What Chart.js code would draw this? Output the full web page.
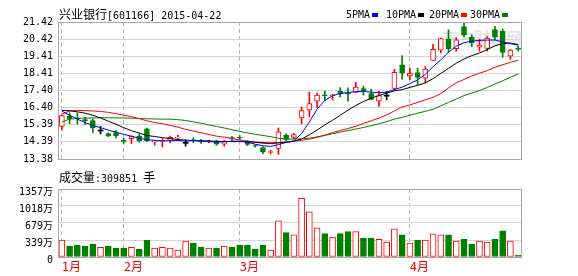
<!DOCTYPE html>
<html>
<head>
<meta charset="utf-8">
<script src="https://cdn.jsdelivr.net/npm/chart.js@4.4.0/dist/chart.umd.min.js"></script>
<style>
  body { margin: 0; background: #fff; width: 578px; height: 276px; overflow: hidden; position: relative; }
  .box { position: absolute; left: 0; width: 578px; z-index: 1; }
  #mainBox { top: 0; height: 170px; }
  #volBox { top: 170px; height: 106px; }
  .t { position: absolute; white-space: nowrap; font-family: "DejaVu Sans Mono", monospace; font-size: 10px; line-height: 14px; color: #000; z-index: 2; }
  .cjk { font-family: "Noto Sans CJK SC"; font-size: 12px; }
  .sq { display: inline-block; width: 6px; height: 4px; margin-left: 2px; vertical-align: 1px; }
  .wm { position: absolute; left: 442px; top: 25px; font-family: "Noto Sans CJK SC"; font-weight: bold; font-size: 16px; color: #e4e4e4; z-index: 0; }
</style>
</head>
<body>
<div class="t" style="left:59px;top:7px"><span class="cjk">兴业银行</span>[601166] 2015-04-22</div>
<div class="t" style="left:346px;top:8px">5PMA<span class="sq" style="background:#0000ff"></span></div>
<div class="t" style="left:386px;top:8px">10PMA<span class="sq" style="background:#000"></span></div>
<div class="t" style="left:429px;top:8px">20PMA<span class="sq" style="background:#ff0000"></span></div>
<div class="t" style="left:470px;top:8px">30PMA<span class="sq" style="background:#008000"></span></div>
<div class="t" style="left:59px;top:170px"><span class="cjk">成交量</span>:309851 <span class="cjk">手</span></div>
<div class="wm">东方财富网</div>
<div class="box" id="mainBox"><canvas id="mainChart" width="578" height="170"></canvas></div>
<div class="box" id="volBox"><canvas id="volChart" width="578" height="106"></canvas></div>

<script>
// 月份标记（第一个交易日的位置）
const monthLabels = ['1月', '2月', '3月', '4月'];
const monthStart = [0, 8, 23, 45];

// 价格坐标刻度
const priceTicks = [13.38, 14.39, 15.39, 16.40, 17.40, 18.41, 19.41, 20.42, 21.42];
// 成交量坐标刻度（万）
const volTicks = [0, 339, 679, 1018, 1357];

// K线数据
const opens = [15.29,15.89,15.80,15.69,15.63,15.05,14.87,14.93,14.47,14.57,
  14.73,15.15,14.37,14.41,14.47,14.61,14.33,14.51,14.45,14.39,
  14.43,14.25,14.63,14.65,14.43,14.17,14.05,13.77,14.00,14.78,
  14.65,15.79,16.24,16.77,17.15,17.10,17.37,17.27,17.28,17.51,
  17.22,16.77,17.10,17.52,18.91,18.26,18.45,18.12,19.17,19.77,
  20.41,19.85,21.15,20.53,19.95,19.87,20.97,20.87,19.41,19.91];
const highs = [15.95,16.09,16.09,15.83,15.73,15.29,14.93,15.05,14.59,14.75,
  14.85,15.19,14.49,14.57,14.73,14.79,14.49,14.63,14.53,14.49,
  14.49,14.49,14.71,14.75,14.47,14.23,14.09,13.89,15.20,14.85,
  14.88,16.43,17.30,17.23,17.37,17.18,17.57,17.55,17.88,17.66,
  17.47,17.38,17.35,18.65,19.45,18.71,18.71,18.81,20.11,20.48,
  20.96,20.50,21.42,20.67,20.41,20.57,21.17,21.01,19.81,20.00];
const lows = [15.09,15.45,15.43,15.39,14.93,14.85,14.69,14.61,14.29,14.29,
  14.37,14.39,14.19,14.09,14.33,14.49,14.13,14.33,14.29,14.33,
  14.19,14.13,14.47,14.51,14.17,14.07,13.69,13.69,13.65,14.45,
  14.58,15.45,15.85,16.40,16.80,16.85,17.02,16.77,17.26,17.13,
  16.85,16.47,16.85,17.40,18.06,18.03,17.74,17.83,19.17,19.61,
  19.65,19.70,20.55,19.97,19.71,19.71,20.37,19.35,19.23,19.71];
const closes = [15.93,15.75,15.75,15.63,15.21,15.05,14.73,14.75,14.41,14.73,
  14.45,14.45,14.45,14.47,14.65,14.65,14.33,14.45,14.39,14.45,
  14.25,14.43,14.59,14.61,14.23,14.13,13.79,13.81,14.97,14.53,
  14.82,16.22,16.63,17.13,17.10,17.15,17.22,17.18,17.60,17.38,
  16.88,17.10,17.10,18.47,18.41,18.41,18.17,18.65,19.81,20.44,
  19.85,20.37,20.65,20.21,20.05,20.47,20.53,19.63,19.77,19.81];

// 均线
const ma5 = [16.19,15.95,15.72,15.52,15.35,15.22,15.08,14.95,14.83,14.71,
  14.60,14.52,14.47,14.45,14.45,14.47,14.43,14.47,14.43,14.40,
  14.37,14.39,14.43,14.43,14.37,14.25,14.16,14.12,14.22,14.35,
  14.45,14.87,15.55,16.30,16.82,17.10,17.22,17.28,17.33,17.35,
  17.30,17.27,17.30,17.45,17.60,17.80,18.02,18.35,18.80,19.20,
  19.65,20.00,20.20,20.30,20.34,20.36,20.36,20.25,20.15,20.06];
const ma10 = [16.23,16.21,16.15,16.07,15.95,15.79,15.60,15.42,15.22,15.04,
  14.90,14.76,14.70,14.63,14.58,14.52,14.49,14.46,14.45,14.44,
  14.42,14.40,14.40,14.40,14.39,14.36,14.31,14.29,14.32,14.36,
  14.42,14.55,14.80,15.08,15.38,15.65,15.95,16.25,16.52,16.75,
  16.95,17.10,17.25,17.38,17.45,17.58,17.70,17.85,18.10,18.40,
  18.70,19.00,19.25,19.45,19.60,19.80,20.02,20.15,20.18,20.10];
const ma20 = [16.00,16.20,16.23,16.22,16.20,16.17,16.12,16.04,15.95,15.86,
  15.75,15.62,15.52,15.45,15.35,15.25,15.12,15.02,14.92,14.82,
  14.72,14.66,14.58,14.50,14.42,14.38,14.35,14.33,14.35,14.38,
  14.42,14.47,14.55,14.65,14.78,14.93,15.05,15.17,15.30,15.47,
  15.62,15.78,15.97,16.20,16.44,16.55,16.70,16.85,17.00,17.22,
  17.55,17.85,18.05,18.25,18.41,18.57,18.76,18.91,19.05,19.18];
const ma30 = [15.55,15.72,15.76,15.78,15.79,15.80,15.80,15.79,15.79,15.77,
  15.76,15.74,15.73,15.72,15.72,15.69,15.64,15.56,15.48,15.38,
  15.29,15.20,15.10,15.00,14.91,14.83,14.76,14.69,14.60,14.55,
  14.55,14.57,14.60,14.68,14.76,14.86,14.96,15.05,15.14,15.23,
  15.33,15.45,15.57,15.72,15.82,15.95,16.07,16.18,16.30,16.50,
  16.70,16.90,17.10,17.25,17.40,17.58,17.78,17.97,18.17,18.37];

// 成交量（万）
const volumes = [340,220,240,220,260,193,220,180,180,193,
  160,340,180,193,180,140,320,280,200,180,
  180,220,200,240,240,160,240,140,720,485,
  440,1170,900,580,466,400,466,506,506,380,
  380,353,300,560,440,280,340,340,460,440,
  440,320,360,260,320,300,360,520,320,31];

const RED = '#ff0000';
const GREEN = '#008000';
const BLUE = '#0000ff';
const FRAME = '#a8a8a8';
const GRID = '#d6d6d6';
const VGRID = '#b4b4b4';
const tickFont = { family: '"DejaVu Sans Mono", "Noto Sans CJK SC"', size: 10 };

const xLabels = closes.map((c, i) => {
  const k = monthStart.indexOf(i);
  return k >= 0 ? monthLabels[k] : '';
});

const upColor = (i) => closes[i] === opens[i] ? '#000' : (closes[i] > opens[i] ? RED : GREEN);
// 平盘画成一条细横线
const bodies = opens.map((o, i) => o === closes[i] ? [o - 0.03, o + 0.03] : [o, closes[i]]);
const wicks = lows.map((l, i) => [l, highs[i]]);

// 外框
const framePlugin = {
  id: 'frame',
  afterDraw(chart) {
    const { ctx, chartArea: a } = chart;
    ctx.save();
    ctx.strokeStyle = FRAME;
    ctx.lineWidth = 1;
    ctx.strokeRect(Math.round(a.left) + 0.5, Math.round(a.top) + 0.5,
      Math.round(a.right - a.left) - 1, Math.round(a.bottom - a.top));
    ctx.restore();
  }
};

// 月初竖虚线
const monthGrid = {
  offset: false,
  drawTicks: false,
  lineWidth: 1,
  color: (ctx) => (ctx.tick && monthLabels.includes(ctx.tick.label)) ? VGRID : 'rgba(0,0,0,0)'
};

// 主图：K线 + 均线
new Chart(document.getElementById('mainChart'), {
  type: 'bar',
  data: {
    labels: xLabels,
    datasets: [
      { type: 'line', label: 'MA5', data: ma5, borderColor: BLUE, borderWidth: 1, pointRadius: 0, tension: 0, order: 0 },
      { type: 'line', label: 'MA10', data: ma10, borderColor: '#000', borderWidth: 1, pointRadius: 0, tension: 0, order: 0 },
      { type: 'line', label: 'MA20', data: ma20, borderColor: RED, borderWidth: 1, pointRadius: 0, tension: 0, order: 0 },
      { type: 'line', label: 'MA30', data: ma30, borderColor: GREEN, borderWidth: 1, pointRadius: 0, tension: 0, order: 0 },
      {
        label: 'body', data: bodies, order: 1, grouped: false, barThickness: 5,
        backgroundColor: closes.map((c, i) => c > opens[i] ? '#fff' : upColor(i)),
        borderColor: closes.map((c, i) => upColor(i)),
        borderWidth: closes.map((c, i) => c === opens[i] ? 0 : 1),
        borderSkipped: false
      },
      {
        label: 'wick', data: wicks, order: 2, grouped: false, barThickness: 1,
        backgroundColor: closes.map((c, i) => upColor(i)),
        borderWidth: 0
      }
    ]
  },
  options: {
    responsive: false,
    animation: false,
    events: [],
    layout: { padding: { left: 0, right: 56, top: 22, bottom: 4 } },
    scales: {
      x: {
        type: 'category',
        offset: true,
        ticks: { display: false, autoSkip: false },
        grid: monthGrid,
        border: { display: false, dash: [4, 3] },
        afterFit: (s) => { s.height = 0; }
      },
      y: {
        min: priceTicks[0],
        max: priceTicks[priceTicks.length - 1],
        afterBuildTicks: (s) => { s.ticks = priceTicks.map(v => ({ value: v })); },
        afterFit: (s) => { s.width = 58; },
        ticks: { font: tickFont, color: '#000', padding: 5, callback: (v) => Number(v).toFixed(2) },
        grid: { color: GRID, drawTicks: false, lineWidth: 1 },
        border: { display: false }
      }
    },
    plugins: { legend: { display: false }, tooltip: { enabled: false } }
  },
  plugins: [framePlugin]
});

// 成交量
new Chart(document.getElementById('volChart'), {
  type: 'bar',
  data: {
    labels: xLabels,
    datasets: [{
      label: '成交量',
      data: volumes,
      barThickness: 6,
      backgroundColor: closes.map((c, i) => c >= opens[i] ? '#fff' : GREEN),
      borderColor: closes.map((c, i) => c >= opens[i] ? RED : GREEN),
      borderWidth: 1,
      borderSkipped: false
    }]
  },
  options: {
    responsive: false,
    animation: false,
    events: [],
    layout: { padding: { left: 0, right: 56, top: 19, bottom: 0 } },
    scales: {
      x: {
        type: 'category',
        offset: true,
        ticks: {
          autoSkip: false, maxRotation: 0, align: 'start', padding: 4, color: RED,
          font: { family: '"DejaVu Sans Mono", "Noto Sans CJK SC"', size: 12 },
          callback: (v, i) => xLabels[i]
        },
        grid: monthGrid,
        border: { display: false, dash: [4, 3] },
        afterFit: (s) => { s.height = 19; }
      },
      y: {
        min: volTicks[0],
        max: volTicks[volTicks.length - 1],
        afterBuildTicks: (s) => { s.ticks = volTicks.map(v => ({ value: v })); },
        afterFit: (s) => { s.width = 58; },
        ticks: { font: tickFont, color: '#000', padding: 5, labelOffset: 3, callback: (v) => v === 0 ? '0' : v + '万' },
        grid: { color: GRID, drawTicks: false, lineWidth: 1 },
        border: { display: false }
      }
    },
    plugins: { legend: { display: false }, tooltip: { enabled: false } }
  },
  plugins: [framePlugin]
});
</script>
</body>
</html>
